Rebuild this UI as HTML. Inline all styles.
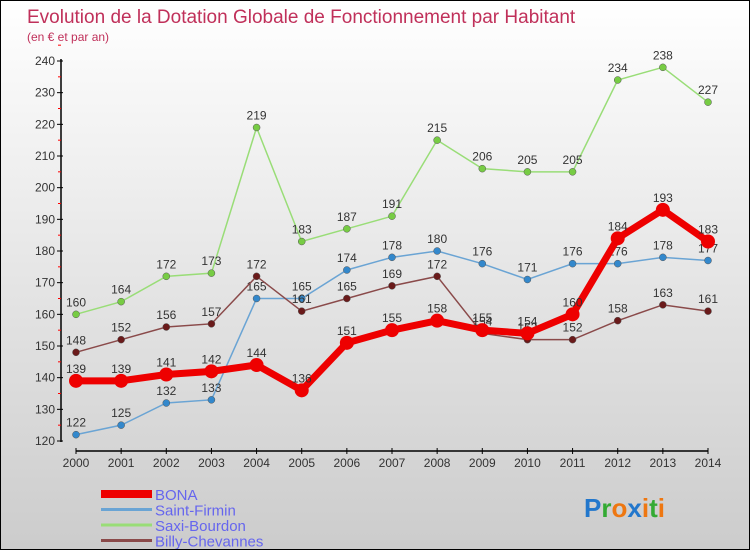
<!DOCTYPE html>
<html><head><meta charset="utf-8"><style>
body{margin:0}
#c{width:750px;height:550px;position:relative;overflow:hidden;box-sizing:border-box;border:1px solid #000;background:linear-gradient(#fff,#ccc);font-family:"Liberation Sans",sans-serif}
text{font-family:"Liberation Sans",sans-serif}
</style></head><body>
<div id="c">
<svg id="s" width="750" height="550">
<text x="26" y="22" font-size="19" fill="#c0305a">Evolution de la Dotation Globale de Fonctionnement par Habitant</text>
<text x="26" y="40" font-size="12" fill="#c0305a">(en € et par an)</text>
</svg>
</div>
<script>
const years=[2000,2001,2002,2003,2004,2005,2006,2007,2008,2009,2010,2011,2012,2013,2014];
const yTicks=[120,130,140,150,160,170,180,190,200,210,220,230,240];
const bona=[139,139,141,142,144,136,151,155,158,155,154,160,184,193,183];
const saintFirmin=[122,125,132,133,165,165,174,178,180,176,171,176,176,178,177];
const saxiBourdon=[160,164,172,173,219,183,187,191,215,206,205,205,234,238,227];
const billyChevannes=[148,152,156,157,172,161,165,169,172,154,152,152,158,163,161];
const series=[
 {name:'Saxi-Bourdon',data:saxiBourdon,color:'#99dd77',dot:'#77cc44',w:1.5,r:3.5},
 {name:'Saint-Firmin',data:saintFirmin,color:'#6aa4d4',dot:'#3388cc',w:1.5,r:3.5},
 {name:'Billy-Chevannes',data:billyChevannes,color:'#8a4a4a',dot:'#6a1a1a',w:1.5,r:3.5},
 {name:'BONA',data:bona,color:'#ee0000',dot:'#ee0000',w:7,r:7}
];
const NS='http://www.w3.org/2000/svg',svg=document.getElementById('s');
const X=i=>75+i*(707-75)/14, Y=v=>440-(v-120)*(380/120);
function mk(t,a,p){const e=document.createElementNS(NS,t);for(const k in a)e.setAttribute(k,a[k]);(p||svg).appendChild(e);return e;}
let ax=mk('line',{x1:60,y1:58,x2:60,y2:441,stroke:'#000','stroke-width':1.5});


yTicks.forEach(v=>{
 mk('line',{x1:56,y1:Y(v),x2:62,y2:Y(v),stroke:'#000'});
 mk('line',{x1:57,y1:Y(v+5),x2:60,y2:Y(v+5),stroke:'#f00'});
 let t=mk('text',{x:54,y:Y(v)+4,'font-size':12,fill:'#333','text-anchor':'end'});t.textContent=v;
 
 
});
let xa=mk('line',{x1:75,y1:450,x2:707,y2:450,stroke:'#000','stroke-width':1.5});


years.forEach((y,i)=>{
 mk('line',{x1:X(i),y1:447,x2:X(i),y2:453,stroke:'#000'});
 let t=mk('text',{x:X(i),y:466,'font-size':12,fill:'#333','text-anchor':'middle'});t.textContent=y;
 
 
});
series.forEach(s=>{
 const g=mk('g',{});
 
 
 mk('polyline',{points:s.data.map((v,i)=>X(i)+','+Y(v)).join(' '),fill:'none',stroke:s.color,'stroke-width':s.w},g);
 s.data.forEach((v,i)=>{
  const c=mk('circle',{cx:X(i),cy:Y(v),r:s.r,fill:s.dot,stroke:s.name==='BONA'?'none':'#555','stroke-width':0.5},g);
  
  
  const t=mk('text',{x:X(i),y:Y(v)-8,'font-size':12,fill:'#333','text-anchor':'middle'},g);t.textContent=v;
  
  
 });
});
const leg=[['BONA','#ee0000',8],['Saint-Firmin','#6aa4d4',3],['Saxi-Bourdon','#99dd77',3],['Billy-Chevannes','#8a4a4a',3]];
leg.forEach((l,i)=>{
 const y=493+i*15.5;
 const g=mk('g',{});
 
 
 mk('line',{x1:100,y1:y,x2:151,y2:y,stroke:l[1],'stroke-width':l[2]},g);
 const t=mk('text',{x:154,y:y+6,'font-size':15,fill:'#6666ee'},g);t.textContent=l[0];
});
const logo=mk('text',{x:583,y:516,'font-size':26,'font-weight':'bold'});


[['P','#2277cc'],['r','#33aa33'],['o','#ee7711'],['x','#2277cc'],['i','#ee7711'],['t','#33aa33'],['i','#ee7711']].forEach(p=>{const s=mk('tspan',{fill:p[1]},logo);s.textContent=p[0];});
</script>
</body></html>
